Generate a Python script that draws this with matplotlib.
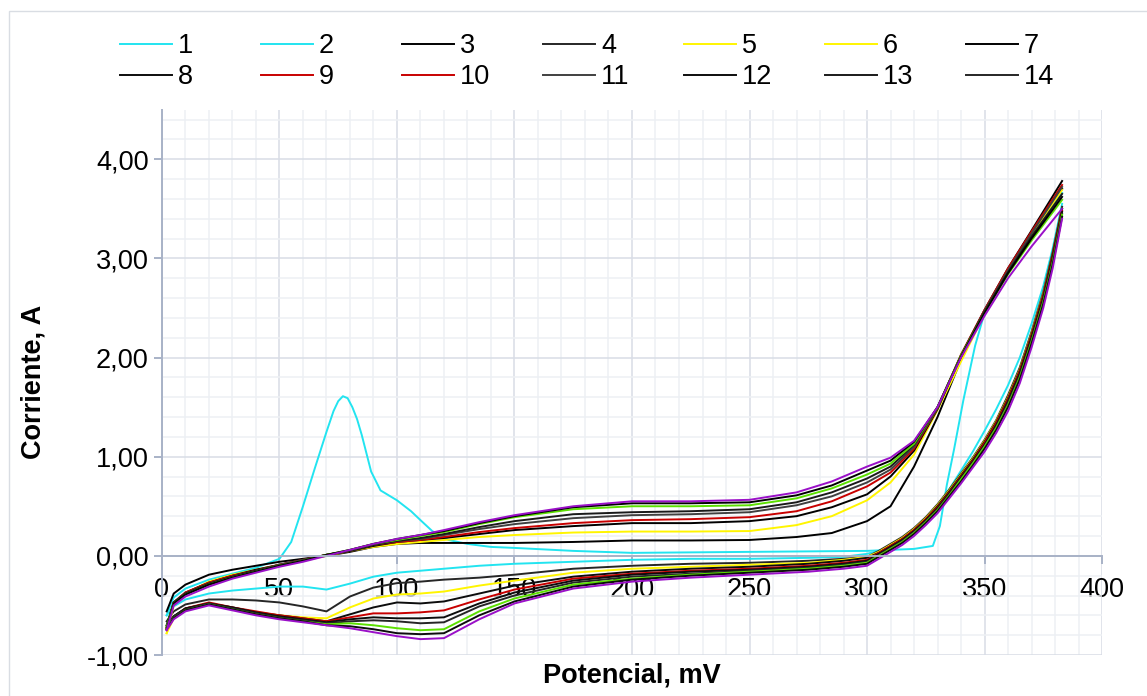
import matplotlib.pyplot as plt
from matplotlib.patches import Rectangle
from matplotlib.ticker import MultipleLocator, FuncFormatter

plt.rcParams['font.family'] = ['Liberation Sans', 'DejaVu Sans']

# Potencial (mV) de los barridos de ida y de vuelta
E_ida = [2, 5, 10, 20, 30, 40, 50, 60, 70, 80, 90, 100, 110, 120, 135, 150, 175,
         200, 225, 250, 270, 285, 300, 310, 320, 330, 340, 350, 360, 370, 383]
E_ida_1 = [2, 5, 10, 20, 30, 40, 50, 55, 60, 65, 70, 73, 75, 77, 79, 81, 83, 85,
           89, 93, 100, 106, 110, 115, 122, 130, 140, 150, 175, 200, 250, 300,
           320, 328, 331, 334, 337, 341, 346, 350, 360, 370, 383]
E_vuelta = [383, 379, 375, 370, 365, 360, 355, 350, 345, 340, 335, 330, 325, 320,
            315, 310, 305, 300, 290, 275, 250, 225, 200, 175, 150, 135, 120, 110,
            100, 90, 80, 70, 60, 50, 40, 30, 20, 10, 5, 2]

# Corriente (A), ciclo 1 (con el pico de oxidacion)
ida_1 = [-0.60, -0.42, -0.33, -0.24, -0.18, -0.12, -0.03, 0.14, 0.50, 0.88,
         1.25, 1.46, 1.56, 1.61, 1.59, 1.50, 1.38, 1.22, 0.85, 0.66,
         0.56, 0.45, 0.36, 0.25, 0.16, 0.12, 0.09, 0.08, 0.05, 0.03,
         0.04, 0.05, 0.07, 0.10, 0.30, 0.72, 1.07, 1.57, 2.12, 2.45,
         2.88, 3.22, 3.66]
vuelta_1 = [3.55, 3.10, 2.72, 2.34, 2.00, 1.72, 1.48, 1.26, 1.05, 0.86,
            0.67, 0.49, 0.35, 0.23, 0.15, 0.09, 0.05, 0.02, -0.01, -0.02,
            -0.03, -0.03, -0.04, -0.06, -0.08, -0.10, -0.13, -0.15, -0.17, -0.21,
            -0.28, -0.34, -0.31, -0.31, -0.33, -0.35, -0.38, -0.44, -0.51, -0.60]

# Ciclos 2 a 10, barrido de ida (sobre E_ida)
ida_2 = [-0.56, -0.38, -0.29, -0.19, -0.14, -0.10, -0.06, -0.03, 0.00, 0.04, 0.09,
         0.12, 0.13, 0.13, 0.13, 0.13, 0.14, 0.155, 0.155, 0.16, 0.19, 0.23, 0.35,
         0.50, 0.90, 1.40, 1.98, 2.46, 2.88, 3.25, 3.70]
ida_3 = [-0.78, -0.50, -0.38, -0.26, -0.19, -0.14, -0.09, -0.05, 0.00, 0.05, 0.09,
         0.12, 0.14, 0.16, 0.19, 0.21, 0.235, 0.245, 0.245, 0.25, 0.31, 0.40, 0.56,
         0.74, 1.02, 1.47, 1.96, 2.44, 2.86, 3.24, 3.69]
ida_4 = [-0.72, -0.47, -0.37, -0.27, -0.20, -0.14, -0.09, -0.04, 0.01, 0.05, 0.10,
         0.14, 0.16, 0.18, 0.22, 0.26, 0.30, 0.33, 0.33, 0.35, 0.40, 0.49, 0.62,
         0.80, 1.06, 1.48, 2.02, 2.48, 2.90, 3.28, 3.78]
ida_5 = [-0.73, -0.47, -0.37, -0.27, -0.20, -0.15, -0.09, -0.04, 0.01, 0.05, 0.11,
         0.14, 0.16, 0.19, 0.24, 0.28, 0.33, 0.36, 0.37, 0.39, 0.45, 0.55, 0.70,
         0.84, 1.08, 1.49, 2.03, 2.48, 2.90, 3.27, 3.74]
ida_6 = [-0.72, -0.47, -0.38, -0.28, -0.21, -0.15, -0.09, -0.04, 0.01, 0.05, 0.11,
         0.15, 0.17, 0.21, 0.27, 0.32, 0.38, 0.41, 0.42, 0.44, 0.51, 0.60, 0.74,
         0.87, 1.10, 1.49, 2.02, 2.47, 2.88, 3.25, 3.72]
ida_7 = [-0.70, -0.47, -0.38, -0.28, -0.21, -0.15, -0.10, -0.05, 0.01, 0.05, 0.11,
         0.15, 0.18, 0.22, 0.29, 0.35, 0.42, 0.44, 0.45, 0.47, 0.54, 0.64, 0.78,
         0.90, 1.12, 1.50, 2.02, 2.46, 2.86, 3.22, 3.65]
ida_8 = [-0.72, -0.48, -0.39, -0.29, -0.22, -0.16, -0.10, -0.05, 0.01, 0.06, 0.12,
         0.16, 0.20, 0.24, 0.32, 0.39, 0.47, 0.50, 0.50, 0.51, 0.58, 0.68, 0.82,
         0.93, 1.13, 1.50, 2.02, 2.45, 2.84, 3.18, 3.59]
ida_9 = [-0.74, -0.48, -0.39, -0.29, -0.22, -0.16, -0.10, -0.05, 0.01, 0.06, 0.12,
         0.17, 0.21, 0.25, 0.33, 0.40, 0.49, 0.53, 0.53, 0.54, 0.61, 0.71, 0.86,
         0.96, 1.15, 1.50, 2.01, 2.45, 2.85, 3.20, 3.62]
ida_10 = [-0.75, -0.50, -0.41, -0.31, -0.23, -0.17, -0.11, -0.06, 0.00, 0.06, 0.12,
          0.17, 0.21, 0.26, 0.34, 0.41, 0.50, 0.55, 0.55, 0.565, 0.64, 0.75, 0.90,
          0.99, 1.16, 1.50, 2.00, 2.42, 2.80, 3.12, 3.50]

# Ciclos 2 a 10, barrido de vuelta (sobre E_vuelta)
vuelta_2 = [3.52, 3.06, 2.66, 2.26, 1.90, 1.62, 1.37, 1.17, 0.99, 0.83,
            0.67, 0.52, 0.39, 0.28, 0.19, 0.12, 0.05, -0.01, -0.03, -0.05,
            -0.07, -0.08, -0.10, -0.13, -0.19, -0.22, -0.24, -0.26, -0.275, -0.32,
            -0.41, -0.56, -0.51, -0.47, -0.45, -0.44, -0.44, -0.49, -0.56, -0.66]
vuelta_3 = [3.50, 3.04, 2.64, 2.24, 1.88, 1.60, 1.36, 1.16, 0.98, 0.82,
            0.66, 0.51, 0.38, 0.27, 0.18, 0.11, 0.04, -0.01, -0.04, -0.07,
            -0.09, -0.11, -0.13, -0.17, -0.25, -0.30, -0.36, -0.38, -0.39, -0.43,
            -0.52, -0.63, -0.62, -0.60, -0.57, -0.53, -0.49, -0.55, -0.63, -0.78]
vuelta_4 = [3.50, 3.04, 2.63, 2.23, 1.87, 1.59, 1.35, 1.15, 0.97, 0.81,
            0.65, 0.50, 0.37, 0.26, 0.17, 0.10, 0.03, -0.02, -0.05, -0.08,
            -0.11, -0.13, -0.16, -0.21, -0.30, -0.38, -0.46, -0.48, -0.47, -0.52,
            -0.59, -0.66, -0.63, -0.60, -0.57, -0.52, -0.48, -0.53, -0.61, -0.72]
vuelta_5 = [3.48, 3.02, 2.62, 2.22, 1.86, 1.58, 1.34, 1.14, 0.96, 0.80,
            0.64, 0.49, 0.37, 0.26, 0.17, 0.10, 0.03, -0.04, -0.07, -0.10,
            -0.13, -0.15, -0.18, -0.23, -0.34, -0.44, -0.55, -0.57, -0.58, -0.58,
            -0.62, -0.66, -0.63, -0.60, -0.56, -0.52, -0.47, -0.53, -0.62, -0.73]
vuelta_6 = [3.47, 3.00, 2.60, 2.20, 1.84, 1.56, 1.32, 1.12, 0.95, 0.79,
            0.63, 0.48, 0.36, 0.25, 0.16, 0.09, 0.02, -0.05, -0.08, -0.11,
            -0.14, -0.16, -0.19, -0.25, -0.37, -0.48, -0.62, -0.63, -0.63, -0.62,
            -0.64, -0.67, -0.64, -0.61, -0.57, -0.52, -0.48, -0.53, -0.61, -0.72]
vuelta_7 = [3.45, 2.98, 2.58, 2.18, 1.82, 1.54, 1.30, 1.11, 0.94, 0.78,
            0.62, 0.47, 0.35, 0.24, 0.15, 0.08, 0.01, -0.06, -0.09, -0.12,
            -0.15, -0.18, -0.21, -0.27, -0.40, -0.51, -0.67, -0.68, -0.66, -0.65,
            -0.66, -0.68, -0.65, -0.62, -0.58, -0.53, -0.48, -0.54, -0.61, -0.70]
vuelta_8 = [3.44, 2.96, 2.56, 2.16, 1.80, 1.52, 1.29, 1.10, 0.93, 0.77,
            0.61, 0.46, 0.34, 0.23, 0.14, 0.07, 0.00, -0.07, -0.10, -0.13,
            -0.16, -0.19, -0.23, -0.29, -0.43, -0.56, -0.74, -0.75, -0.73, -0.70,
            -0.68, -0.69, -0.66, -0.63, -0.59, -0.54, -0.49, -0.55, -0.63, -0.72]
vuelta_9 = [3.42, 2.94, 2.54, 2.14, 1.78, 1.50, 1.27, 1.08, 0.91, 0.75,
            0.60, 0.45, 0.33, 0.22, 0.13, 0.06, -0.01, -0.08, -0.11, -0.14,
            -0.17, -0.20, -0.24, -0.31, -0.46, -0.60, -0.78, -0.79, -0.78, -0.74,
            -0.71, -0.70, -0.66, -0.63, -0.59, -0.54, -0.49, -0.55, -0.63, -0.74]
vuelta_10 = [3.40, 2.90, 2.50, 2.10, 1.74, 1.46, 1.24, 1.05, 0.89, 0.73,
             0.58, 0.43, 0.31, 0.20, 0.11, 0.04, -0.03, -0.10, -0.13, -0.16,
             -0.19, -0.22, -0.26, -0.33, -0.48, -0.64, -0.83, -0.84, -0.81, -0.77,
             -0.73, -0.70, -0.67, -0.64, -0.60, -0.55, -0.50, -0.56, -0.64, -0.75]

# series 1..20 en orden: (E, I) ida y vuelta de cada ciclo
series = [
    (E_ida_1, ida_1), (E_vuelta, vuelta_1),
    (E_ida, ida_2), (E_vuelta, vuelta_2),
    (E_ida, ida_3), (E_vuelta, vuelta_3),
    (E_ida, ida_4), (E_vuelta, vuelta_4),
    (E_ida, ida_5), (E_vuelta, vuelta_5),
    (E_ida, ida_6), (E_vuelta, vuelta_6),
    (E_ida, ida_7), (E_vuelta, vuelta_7),
    (E_ida, ida_8), (E_vuelta, vuelta_8),
    (E_ida, ida_9), (E_vuelta, vuelta_9),
    (E_ida, ida_10), (E_vuelta, vuelta_10),
]
colores = ['#22E4F0', '#22E4F0', '#000000', '#262626', '#FFF500', '#FFF500',
           '#000000', '#0D0D0D', '#C80000', '#C80000', '#404040', '#0D0D0D',
           '#1A1A1A', '#262626', '#5CE000', '#5CE000', '#000000', '#0D0D0D',
           '#9A10C8', '#9A10C8']

EJE = '#A8B2C7'
FS = 19.5

fig = plt.figure(figsize=(11.47, 6.96), dpi=100)
ax = fig.add_axes([0.1412, 0.0589, 0.8196, 0.7836])

handles = []
for i, ((E, I), c) in enumerate(zip(series, colores)):
    h, = ax.plot(E, I, color=c, lw=1.4, label=str(i + 1))
    handles.append(h)

ax.set_xlim(0, 400)
ax.set_ylim(-1, 4.5)
ax.xaxis.set_major_locator(MultipleLocator(50))
ax.xaxis.set_minor_locator(MultipleLocator(10))
ax.yaxis.set_major_locator(MultipleLocator(1))
ax.yaxis.set_minor_locator(MultipleLocator(0.2))
ax.yaxis.set_major_formatter(FuncFormatter(lambda v, p: f"{v:.2f}".replace('.', ',')))

ax.grid(which='minor', color='#EDF0F4', lw=1.1)
ax.grid(which='major', color='#D8DDE6', lw=1.1)

for s in ['top', 'right']:
    ax.spines[s].set_visible(False)
ax.spines['bottom'].set_position(('data', 0))
for s in ['left', 'bottom']:
    ax.spines[s].set_color(EJE)
    ax.spines[s].set_linewidth(1.4)

ax.tick_params(which='minor', length=0)
ax.tick_params(which='major', direction='out', length=5.5, width=1.4,
               color=EJE, labelsize=FS, labelcolor='black')
ax.tick_params(axis='x', pad=10)
ax.tick_params(axis='y', pad=4)

ax.set_xlabel('Potencial, mV', fontsize=FS, fontweight='bold', va='center')
ax.xaxis.set_label_coords(0.5, -0.0384)
ax.set_ylabel('Corriente, A', fontsize=FS, fontweight='bold', va='center')
ax.yaxis.set_label_coords(-0.137, 0.5)

# leyenda en 2 filas x 7 columnas con paso fijo (solo series 1-14)
for k in range(7):
    fig.legend(handles=[handles[k], handles[k + 7]], loc='upper left',
               bbox_to_anchor=((120 + 141 * k) / 1147, 1 - 33 / 696),
               frameon=False, fontsize=FS, handlelength=1.92,
               handletextpad=0.22, labelspacing=0.2,
               borderpad=0, borderaxespad=0)

# marco del area del grafico
fig.patches.append(Rectangle((9 / 1147, -0.05), 1.2, 1 - 11 / 696 + 0.05,
                             transform=fig.transFigure, fill=False,
                             ec='#D9DDE3', lw=1.0))

fig.savefig('out.png', dpi=100, facecolor='white')
